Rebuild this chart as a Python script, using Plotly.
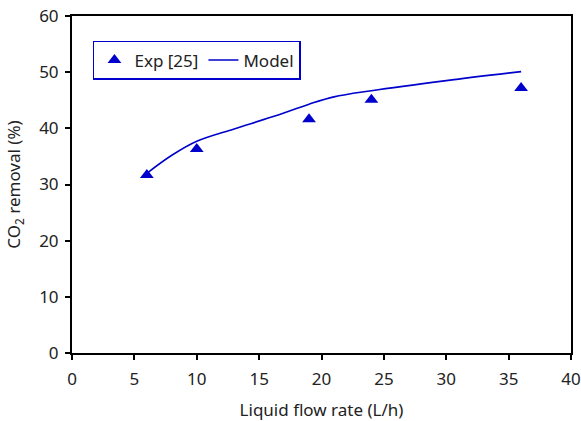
import plotly.graph_objects as go

exp_x = [6, 10, 19, 24, 36]
exp_y = [31.7, 36.3, 41.6, 45.1, 47.2]

model_x = [6, 8, 10, 13, 16, 19, 21, 24, 30, 36]
model_y = [32.0, 35.2, 37.7, 39.9, 42.0, 44.3, 45.6, 46.7, 48.5, 50.1]

blue = "#0000CC"
font = "Noto Sans"
txt = "#222"

fig = go.Figure()
fig.add_trace(go.Scatter(x=exp_x, y=exp_y, mode="markers", name="Exp [25]",
                         marker=dict(symbol="triangle-up", size=12, color=blue)))
fig.add_trace(go.Scatter(x=model_x, y=model_y, mode="lines", name="Model",
                         line=dict(color=blue, width=1.6, shape="spline", smoothing=1.0)))

axis_common = dict(showgrid=False, zeroline=False, showline=True, linecolor="black",
                   linewidth=2, mirror=True, ticks="outside", ticklen=5, tickwidth=1.5,
                   tickcolor="black", automargin=False,
                   tickfont=dict(family=font, size=17, color=txt))

fig.update_layout(
    width=581, height=421,
    margin=dict(l=72, r=10, t=16, b=68),
    plot_bgcolor="white", paper_bgcolor="white",
    font=dict(family=font, size=17, color=txt),
    xaxis=dict(range=[0, 40], dtick=5, ticklabelstandoff=5,
               title=dict(text="Liquid flow rate (L/h)", font=dict(family=font, size=17, color=txt), standoff=16),
               **axis_common),
    yaxis=dict(range=[0, 60], dtick=10, ticklabelstandoff=3,
               title=dict(text="CO<sub>2</sub> removal (%)", font=dict(family=font, size=17, color=txt), standoff=14),
               **axis_common),
    legend=dict(orientation="h", x=0.042, y=0.926, xanchor="left", yanchor="top",
                bordercolor=blue, borderwidth=1.5, bgcolor="white",
                font=dict(family=font, size=17, color=txt),
                itemwidth=30, tracegroupgap=0),
    showlegend=True,
)

fig.write_html("out.html")
